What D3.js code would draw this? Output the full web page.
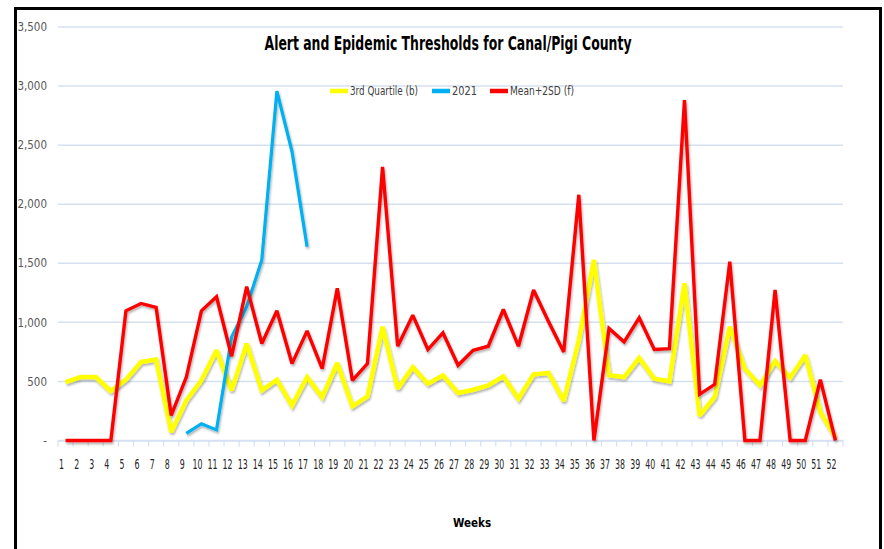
<!DOCTYPE html>
<html><head><meta charset="utf-8">
<script src="https://cdn.jsdelivr.net/npm/d3@7"></script>
<style>
html,body{margin:0;padding:0;background:#fff;}
svg{display:block;}
text{font-family:"Liberation Sans Narrow","DejaVu Sans Condensed","Liberation Sans",sans-serif;}
</style></head>
<body>
<svg id="chart" width="884" height="549"></svg>
<script>
const weeks = [1,2,3,4,5,6,7,8,9,10,11,12,13,14,15,16,17,18,19,20,21,22,23,24,25,26,27,28,29,30,31,32,33,34,35,36,37,38,39,40,41,42,43,44,45,46,47,48,49,50,51,52];
const thirdQuartile = [495,537,537,419,515,665,685,71,340,509,764,424,820,424,515,297,537,368,656,289,374,962,439,622,481,552,402,430,467,543,354,560,572,334,849,1528,552,537,699,524,501,1330,212,368,962,608,467,673,532,722,240,28];
const y2021 = [null,null,null,null,null,null,null,null,60,142,90,877,1132,1528,2957,2448,1641,null,null,null,null,null,null,null,null,null,null,null,null,null,null,null,null,null,null,null,null,null,null,null,null,null,null,null,null,null,null,null,null,null,null,null];
const meanPlus2SD = [0,0,0,0,1098,1160,1126,212,537,1098,1217,713,1302,821,1098,651,928,608,1288,509,651,2315,798,1061,770,911,637,764,798,1109,798,1274,1005,750,2080,0,948,835,1038,770,778,2881,391,475,1514,0,0,1274,0,0,515,0];
const yTicks = [0,500,1000,1500,2000,2500,3000,3500];
const seriesNames = ["3rd Quartile (b)","2021","Mean+2SD (f)"];
const seriesColors = ["#ffff00","#00b0f0","#ff0000"];

const svg = d3.select("#chart");
const L = 58, R = 843, T = 27, B = 440.5;

// frame
svg.append("rect").attr("x",15.5).attr("y",8.5).attr("width",865).attr("height",560)
  .attr("fill","none").attr("stroke","#000").attr("stroke-width",3);

const defs = svg.append("defs");
const f = defs.append("filter").attr("id","sh").attr("x","-5%").attr("y","-5%").attr("width","110%").attr("height","120%");
f.append("feDropShadow").attr("dx",1).attr("dy",2).attr("stdDeviation",1.2).attr("flood-color","#000").attr("flood-opacity",0.3);

const x = d3.scaleBand().domain(weeks).range([L,R]).paddingInner(0).paddingOuter(0);
const y = d3.scaleLinear().domain([0,3500]).range([B,T]);

// gridlines
svg.append("g").selectAll("line").data(yTicks).join("line")
  .attr("x1",L).attr("x2",R).attr("y1",d=>y(d)).attr("y2",d=>y(d))
  .attr("stroke","#d5e1f1").attr("stroke-width",1.5);

// y axis labels
const yAxis = d3.axisLeft(y).tickValues(yTicks).tickSize(0).tickPadding(0)
  .tickFormat(d => d===0 ? "-" : d3.format(",")(d));
const gy = svg.append("g").attr("transform",`translate(47,0)`).call(yAxis);
gy.select(".domain").remove();
gy.selectAll("text").attr("fill","#595959").attr("font-size",11.5)
  .style("font-family","'Liberation Sans Narrow','DejaVu Sans Condensed',sans-serif");

// x axis
const xAxis = d3.axisBottom(x).tickSize(0).tickPadding(0);
const gx = svg.append("g").attr("transform",`translate(0,${B})`).call(xAxis);
gx.select(".domain").attr("stroke","#d5e1f1").attr("stroke-width",1.5);
gx.selectAll("text").attr("fill","#262626").attr("font-size",14)
  .attr("dy",0).attr("y",28).attr("dx",-4)
  .attr("textLength", d => String(d).length > 1 ? 10 : 5)
  .attr("lengthAdjust","spacingAndGlyphs")
  .style("font-family","'Liberation Sans Narrow','DejaVu Sans Condensed',sans-serif");
// category boundary ticks
const bounds = weeks.map(w => x(w)).concat([R]);
svg.append("g").selectAll("line").data(bounds).join("line")
  .attr("x1",d=>d).attr("x2",d=>d).attr("y1",B).attr("y2",B+6)
  .attr("stroke","#d5e1f1").attr("stroke-width",1.2);

// lines
const cx = w => x(w) + x.bandwidth()/2;
const seriesData = [thirdQuartile, y2021, meanPlus2SD];
const widths = [4.5, 3.2, 3.4];
seriesData.forEach((vals,i) => {
  const line = d3.line().defined((d,j)=>vals[j]!==null).x((d,j)=>cx(weeks[j])).y(d=>y(d));
  svg.append("path").datum(vals).attr("d",line)
    .attr("fill","none").attr("stroke",seriesColors[i]).attr("stroke-width",widths[i])
    .attr("stroke-linejoin","miter").attr("stroke-miterlimit",2.2)
    .attr("filter","url(#sh)");
});

// title
svg.append("text").attr("x",448).attr("y",50).attr("text-anchor","middle")
  .attr("font-size",19).attr("font-weight","bold").attr("fill","#000")
  .attr("textLength",367).attr("lengthAdjust","spacingAndGlyphs")
  .text("Alert and Epidemic Thresholds for Canal/Pigi County");

// legend
const legX = [330, 432, 490];
const legW = [68, 25, 64];
seriesNames.forEach((n,i) => {
  svg.append("line").attr("x1",legX[i]).attr("x2",legX[i]+18).attr("y1",91).attr("y2",91)
    .attr("stroke",seriesColors[i]).attr("stroke-width",4.5);
  svg.append("text").attr("x",legX[i]+20).attr("y",95).attr("font-size",11.5).attr("fill","#404040")
    .attr("textLength",legW[i]).attr("lengthAdjust","spacingAndGlyphs")
    .text(n);
});

// x axis title
svg.append("text").attr("x",472).attr("y",527).attr("text-anchor","middle")
  .attr("font-size",11.5).attr("font-weight","bold").attr("fill","#000").text("Weeks");
</script>
</body></html>
